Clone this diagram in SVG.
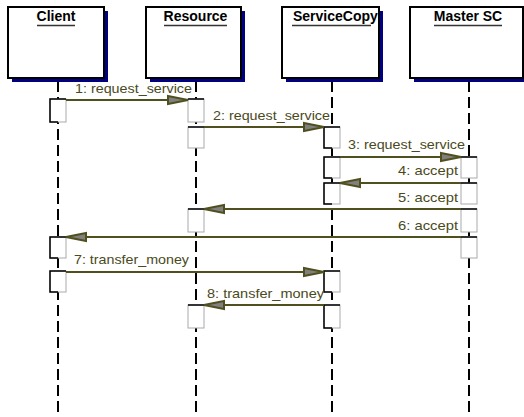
<svg xmlns="http://www.w3.org/2000/svg" width="524" height="417" viewBox="0 0 524 417">
<style>
.shadow{fill:#000080}
.box{fill:#fff;stroke:#000;stroke-width:2}
.title{font-family:"Liberation Sans",Arial,sans-serif;font-size:14px;font-weight:bold;fill:#000}
.ul{stroke:#333;stroke-width:1.5}
.life{stroke:#000;stroke-width:2;stroke-dasharray:11 5;fill:none}
.act{fill:#fff;stroke:#aaa;stroke-width:1}
.actb{fill:none;stroke:#000;stroke-width:1.5}
.msg{stroke:#50501e;stroke-width:2;fill:none;marker-end:url(#ah)}
.lbl{font-family:"Liberation Sans",Arial,sans-serif;font-size:13px;fill:#4a4a1c}
</style>
<defs>
<marker id="ah" markerUnits="userSpaceOnUse" markerWidth="24" markerHeight="12" viewBox="-2 -2 24 12" refX="20" refY="4" orient="auto">
<path d="M0,0 L20,4 L0,8 Z" fill="#808080" stroke="#50501e" stroke-width="2" stroke-linejoin="miter"/>
</marker>
<clipPath id="scclip"><rect x="282" y="7" width="97" height="71"/></clipPath>
</defs>
<rect width="524" height="417" fill="#fff"/>

<g id="lifelines">
<line class="life" x1="58" y1="81" x2="58" y2="417"/>
<line class="life" x1="196" y1="81" x2="196" y2="417"/>
<line class="life" x1="332" y1="81" x2="332" y2="417"/>
<line class="life" x1="469" y1="81" x2="469" y2="417"/>
</g>

<g id="client">
<rect class="shadow" x="12" y="11" width="96" height="71"/>
<rect class="box" x="8" y="7" width="96" height="71"/>
<text class="title" x="56" y="21" text-anchor="middle">Client</text>
<line class="ul" x1="37" y1="25.5" x2="75" y2="25.5"/>
</g>
<g id="resource">
<rect class="shadow" x="150" y="11" width="95" height="71"/>
<rect class="box" x="146" y="7" width="95" height="71"/>
<text class="title" x="195.5" y="21" text-anchor="middle">Resource</text>
<line class="ul" x1="164" y1="25.5" x2="227" y2="25.5"/>
</g>
<g id="servicecopy">
<rect class="shadow" x="286" y="11" width="97" height="71"/>
<rect class="box" x="282" y="7" width="97" height="71"/>
<text class="title" x="293" y="21" clip-path="url(#scclip)">ServiceCopy</text>
<line class="ul" x1="292" y1="25.5" x2="371" y2="25.5"/>
</g>
<g id="mastersc">
<rect class="shadow" x="414" y="11" width="114" height="71"/>
<rect class="box" x="410" y="7" width="113" height="71"/>
<text class="title" x="468" y="21" text-anchor="middle">Master SC</text>
<line class="ul" x1="434" y1="25.5" x2="502" y2="25.5"/>
</g>

<g id="activations">
<rect class="act" x="50" y="99" width="16" height="23"/><path class="actb" d="M66,99 H50 V122 H58"/>
<rect class="act" x="50" y="237" width="16" height="21"/><path class="actb" d="M66,237 H50 V258 H58"/>
<rect class="act" x="50" y="271" width="16" height="21"/><path class="actb" d="M66,271 H50 V292 H58"/>

<rect class="act" x="188" y="99" width="16" height="23"/><path class="actb" d="M204,99 H188"/>
<rect class="act" x="188" y="127" width="16" height="21"/><path class="actb" d="M204,127 H188"/>
<rect class="act" x="188" y="209" width="16" height="23"/><path class="actb" d="M204,209 H188"/>
<rect class="act" x="188" y="305" width="16" height="23"/><path class="actb" d="M204,305 H188"/>

<rect class="act" x="324" y="127" width="16" height="21"/><path class="actb" d="M340,127 H324 V148 H332"/>
<rect class="act" x="324" y="157" width="16" height="21"/><path class="actb" d="M340,157 H324 V178 H332"/>
<rect class="act" x="324" y="183" width="16" height="21"/><path class="actb" d="M340,183 H324 V204 H332"/>
<rect class="act" x="324" y="271" width="16" height="21"/><path class="actb" d="M340,271 H324 V292 H332"/>
<rect class="act" x="324" y="305" width="16" height="23"/><path class="actb" d="M340,305 H324 V328 H332"/>

<rect class="act" x="461" y="157" width="16" height="21"/><path class="actb" d="M477,157 H461"/>
<rect class="act" x="461" y="183" width="16" height="21"/><path class="actb" d="M477,183 H461"/>
<rect class="act" x="461" y="209" width="16" height="23"/><path class="actb" d="M477,209 H461"/>
<rect class="act" x="461" y="237" width="16" height="21"/><path class="actb" d="M477,237 H461"/>
</g>

<g id="connectors">
<line class="msg" x1="66" y1="100" x2="188" y2="100"/>
<line class="msg" x1="204" y1="127" x2="324" y2="127"/>
<line class="msg" x1="340" y1="157" x2="461" y2="157"/>
<line class="msg" x1="461" y1="183" x2="340" y2="183"/>
<line class="msg" x1="461" y1="209" x2="204" y2="209"/>
<line class="msg" x1="461" y1="237" x2="66" y2="237"/>
<line class="msg" x1="66" y1="272" x2="324" y2="272"/>
<line class="msg" x1="324" y1="305" x2="204" y2="305"/>
</g>

<g id="labels">
<text class="lbl" x="75" y="93" textLength="117" lengthAdjust="spacingAndGlyphs">1: request_service</text>
<text class="lbl" x="213" y="120" textLength="117" lengthAdjust="spacingAndGlyphs">2: request_service</text>
<text class="lbl" x="348" y="149" textLength="117" lengthAdjust="spacingAndGlyphs">3: request_service</text>
<text class="lbl" x="398" y="175" textLength="60" lengthAdjust="spacingAndGlyphs">4: accept</text>
<text class="lbl" x="398" y="202" textLength="60" lengthAdjust="spacingAndGlyphs">5: accept</text>
<text class="lbl" x="398" y="230" textLength="60" lengthAdjust="spacingAndGlyphs">6: accept</text>
<text class="lbl" x="74" y="264" textLength="115" lengthAdjust="spacingAndGlyphs">7: transfer_money</text>
<text class="lbl" x="207" y="298" textLength="117" lengthAdjust="spacingAndGlyphs">8: transfer_money</text>
</g>
</svg>
